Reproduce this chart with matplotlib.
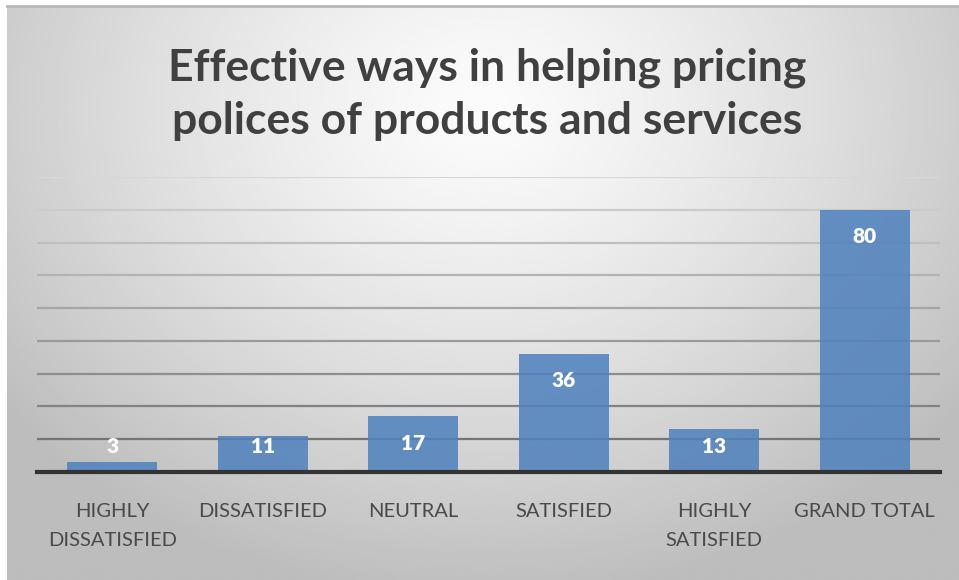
import numpy as np
import matplotlib
matplotlib.use("Agg")
import matplotlib.pyplot as plt

# survey responses
categories = ["HIGHLY\nDISSATISFIED", "DISSATISFIED", "NEUTRAL", "SATISFIED",
              "HIGHLY\nSATISFIED", "GRAND TOTAL"]
counts = [3, 11, 17, 36, 13, 80]
title = "Effective ways in helping pricing\npolices of products and services"

plt.rcParams['font.family'] = ['Lato', 'DejaVu Sans']

W, H = 959, 580
fig = plt.figure(figsize=(W / 100, H / 100), dpi=100, facecolor='white')

# soft radial grey background behind the whole chart
bg = fig.add_axes([7 / W, 0, (W - 7) / W, (H - 6) / H], zorder=-10)
yy, xx = np.mgrid[0:1:300j, 0:1:500j]
r = np.sqrt(((xx - 0.5) / 0.75) ** 2 + ((yy - 0.18) / 1.0) ** 2)
shade = np.clip(0.985 - 0.30 * r ** 1.3, 0.74, 1.0)
bg.imshow(shade, cmap='gray', vmin=0, vmax=1, aspect='auto',
          extent=[0, 1, 1, 0], interpolation='bilinear')
bg.set_axis_off()
fig.add_artist(plt.Line2D([7 / W, 1], [1 - 6 / H, 1 - 6 / H],
                          transform=fig.transFigure, color='#b8b8b8', lw=2))

ax = fig.add_axes([37 / W, 1 - 472 / H, 903 / W, 295 / H])
ax.set_facecolor('none')
x = np.arange(len(categories))
ax.bar(x, counts, width=0.6, color='#4f81bd', alpha=0.86, zorder=3)

ax.set_xlim(-0.5, len(categories) - 0.5)
ax.set_ylim(0, 90)
ax.set_yticks(np.arange(10, 91, 10))
ax.tick_params(axis='y', left=False, labelleft=False)
ax.tick_params(axis='x', bottom=False, pad=19)
ax.set_xticks(x)
ax.set_xticklabels(categories, fontsize=14.5, color='#4a4a4a', linespacing=1.85,
                   va='top')

# gridlines darken toward the baseline
ax.yaxis.grid(True, linewidth=1.6, zorder=1)
for i, gl in enumerate(ax.get_ygridlines()):
    g = 0.46 + 0.048 * i
    gl.set_color((g, g, g))
ax.set_axisbelow(True)

for s in ['top', 'right', 'left']:
    ax.spines[s].set_visible(False)
ax.spines['bottom'].set_color('#333333')
ax.spines['bottom'].set_linewidth(3)
ax.spines['bottom'].set_zorder(4)

for xi, v in zip(x, counts):
    ax.text(xi, max(v - 8.2, 7.7), str(v), ha='center', va='center',
            fontsize=15, fontweight='heavy', color='white', zorder=5)

fig.text(0.508, 1 - 94 / H, title, ha='center', va='center', fontsize=32,
         fontweight='bold', color='#404040', linespacing=1.38)

fig.savefig('out.png', dpi=100, facecolor='white')
